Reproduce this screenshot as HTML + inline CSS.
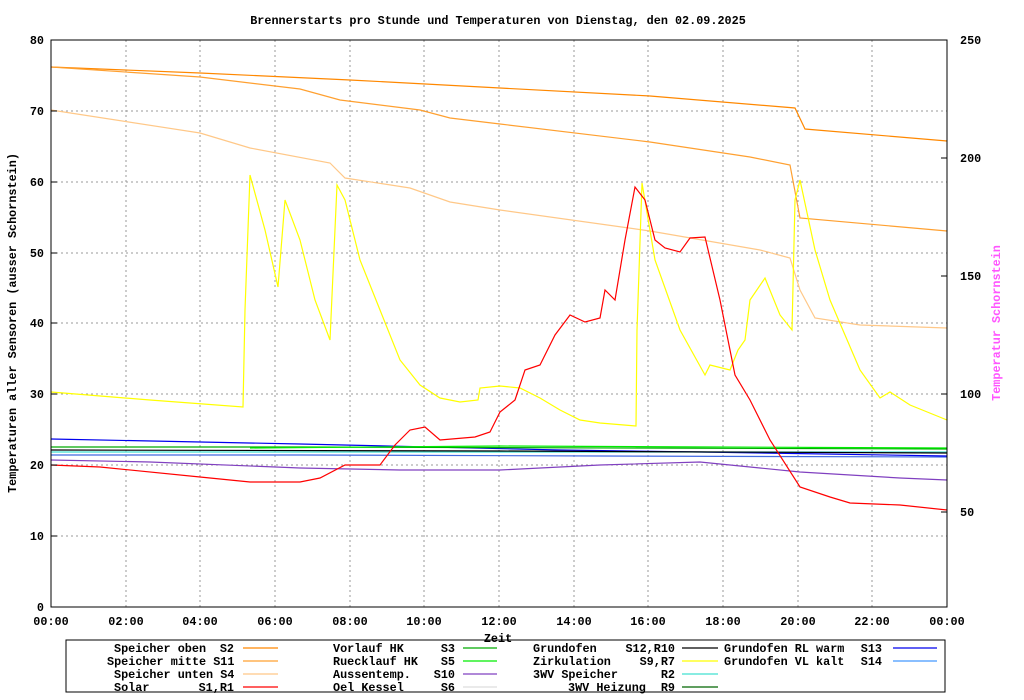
<!DOCTYPE html>
<html><head><meta charset="utf-8"><style>
body{margin:0;background:#fff}
svg{display:block}
text{font-family:"Liberation Mono",monospace;font-size:11.8px;font-weight:bold;fill:#000}
</style></head><body>
<svg width="1024" height="700" viewBox="0 0 1024 700" xmlns="http://www.w3.org/2000/svg">
<rect width="1024" height="700" fill="#fff"/>
<text x="498" y="24" text-anchor="middle">Brennerstarts pro Stunde und Temperaturen von Dienstag, den 02.09.2025</text>
<g stroke="#999" stroke-dasharray="2,3" stroke-width="1">
<line x1="51" y1="536" x2="947" y2="536"/><line x1="51" y1="465" x2="947" y2="465"/>
<line x1="51" y1="394" x2="947" y2="394"/><line x1="51" y1="323" x2="947" y2="323"/>
<line x1="51" y1="253" x2="947" y2="253"/><line x1="51" y1="182" x2="947" y2="182"/>
<line x1="51" y1="111" x2="947" y2="111"/>
<line x1="126" y1="40" x2="126" y2="607"/><line x1="200" y1="40" x2="200" y2="607"/>
<line x1="275" y1="40" x2="275" y2="607"/><line x1="350" y1="40" x2="350" y2="607"/>
<line x1="424" y1="40" x2="424" y2="607"/><line x1="499" y1="40" x2="499" y2="607"/>
<line x1="574" y1="40" x2="574" y2="607"/><line x1="648" y1="40" x2="648" y2="607"/>
<line x1="723" y1="40" x2="723" y2="607"/><line x1="798" y1="40" x2="798" y2="607"/>
<line x1="872" y1="40" x2="872" y2="607"/>
</g>
<g fill="none" stroke-width="1.2">
<polyline stroke="#4169e1" points="51,455 300,455 600,456 947,457"/>
<polyline stroke="#0000ee" points="51,439 300,444 560,450 700,452 947,456"/>
<polyline stroke="#00aa00" points="51,447 300,447 947,449"/>
<polyline stroke="#00ee00" points="250,448 500,446 947,448"/>
<polyline stroke="#40e0d0" points="51,452 947,452"/>
<polyline stroke="#000" points="51,450 500,451 947,453"/>
<polyline stroke="#8040c0" points="51,460 150,462 300,468 400,470 500,470 600,465 700,462 760,468 800,472 900,478 947,480"/>
<polyline stroke="#ff8800" points="51,67 200,73 350,80 500,88 650,96 795,108 805,129 947,141"/>
<polyline stroke="#ffa030" points="51,67 200,77 300,89 340,100 420,110 450,118 500,124 650,142 750,157 790,165 800,218 947,231"/>
<polyline stroke="#ffc888" points="51,110 200,133 250,148 330,163 345,178 410,188 450,202 500,210 650,231 760,250 790,258 800,290 815,318 860,325 947,328"/>
<polyline stroke="#ffff00" points="51,392 150,400 243,407 245,310 250,175 265,230 278,287 285,200 300,240 315,300 330,340 337,185 345,200 360,260 380,310 400,360 420,385 440,398 460,402 478,400 480,388 500,386 520,388 540,398 560,410 580,420 600,423 636,426 637,330 642,183 655,260 680,330 705,375 710,365 730,370 738,350 745,340 750,300 765,278 780,315 792,330 795,200 800,180 815,250 830,300 860,370 880,398 890,392 910,405 947,420"/>
<polyline stroke="#ff0000" points="51,465 100,467 200,477 250,482 300,482 320,478 345,465 380,465 395,445 410,430 425,427 440,440 475,437 490,432 500,412 515,400 525,370 540,365 555,335 570,315 585,322 600,318 605,290 615,300 625,240 635,187 645,200 655,240 665,248 680,252 690,238 705,237 720,300 735,375 750,400 770,440 800,487 830,497 850,503 900,505 947,510"/>
</g>
<rect x="51" y="40" width="896" height="567" fill="none" stroke="#000" stroke-width="1"/>
<g stroke="#000">
<line x1="51" y1="536" x2="57" y2="536"/><line x1="51" y1="465" x2="57" y2="465"/><line x1="51" y1="394" x2="57" y2="394"/><line x1="51" y1="323" x2="57" y2="323"/><line x1="51" y1="253" x2="57" y2="253"/><line x1="51" y1="182" x2="57" y2="182"/><line x1="51" y1="111" x2="57" y2="111"/>
<line x1="941" y1="512" x2="947" y2="512"/><line x1="941" y1="394" x2="947" y2="394"/><line x1="941" y1="276" x2="947" y2="276"/><line x1="941" y1="158" x2="947" y2="158"/>
</g>
<g text-anchor="end">
<text x="44" y="611">0</text><text x="44" y="540">10</text><text x="44" y="469">20</text><text x="44" y="398">30</text><text x="44" y="327">40</text><text x="44" y="257">50</text><text x="44" y="186">60</text><text x="44" y="115">70</text><text x="44" y="44">80</text>
</g>
<g>
<text x="960" y="516">50</text><text x="960" y="398">100</text><text x="960" y="280">150</text><text x="960" y="162">200</text><text x="960" y="44">250</text>
</g>
<g text-anchor="middle">
<text x="51" y="625">00:00</text><text x="126" y="625">02:00</text><text x="200" y="625">04:00</text><text x="275" y="625">06:00</text><text x="350" y="625">08:00</text><text x="424" y="625">10:00</text><text x="499" y="625">12:00</text><text x="574" y="625">14:00</text><text x="648" y="625">16:00</text><text x="723" y="625">18:00</text><text x="798" y="625">20:00</text><text x="872" y="625">22:00</text><text x="947" y="625">00:00</text>
<text x="498" y="642">Zeit</text>
</g>
<text transform="translate(16,323) rotate(-90)" text-anchor="middle">Temperaturen aller Sensoren (ausser Schornstein)</text>
<text transform="translate(1000,323) rotate(-90)" text-anchor="middle" style="fill:#ff55ff">Temperatur Schornstein</text>
<rect x="66" y="640" width="879" height="52" fill="none" stroke="#000"/>
<g>
<text x="114" y="652">Speicher oben</text><text x="234" y="652" text-anchor="end">S2</text>
<text x="107" y="665">Speicher mitte S11</text>
<text x="114" y="678">Speicher unten S4</text>
<text x="114" y="691">Solar</text><text x="234" y="691" text-anchor="end">S1,R1</text>
<text x="333" y="652">Vorlauf HK</text><text x="455" y="652" text-anchor="end">S3</text>
<text x="333" y="665">Ruecklauf HK</text><text x="455" y="665" text-anchor="end">S5</text>
<text x="333" y="678">Aussentemp.</text><text x="455" y="678" text-anchor="end">S10</text>
<text x="333" y="691">Oel Kessel</text><text x="455" y="691" text-anchor="end">S6</text>
<text x="533" y="652">Grundofen</text><text x="675" y="652" text-anchor="end">S12,R10</text>
<text x="533" y="665">Zirkulation</text><text x="675" y="665" text-anchor="end">S9,R7</text>
<text x="533" y="678">3WV Speicher</text><text x="675" y="678" text-anchor="end">R2</text>
<text x="568" y="691">3WV Heizung</text><text x="675" y="691" text-anchor="end">R9</text>
<text x="724" y="652">Grundofen RL warm</text><text x="882" y="652" text-anchor="end">S13</text>
<text x="724" y="665">Grundofen VL kalt</text><text x="882" y="665" text-anchor="end">S14</text>
</g>
<g stroke-width="1.3">
<line x1="243" y1="648" x2="278" y2="648" stroke="#ff8800"/>
<line x1="243" y1="661" x2="278" y2="661" stroke="#ffa030"/>
<line x1="243" y1="674" x2="278" y2="674" stroke="#ffc888"/>
<line x1="243" y1="687" x2="278" y2="687" stroke="#ff0000"/>
<line x1="463" y1="648" x2="497" y2="648" stroke="#00aa00"/>
<line x1="463" y1="661" x2="497" y2="661" stroke="#00ee00"/>
<line x1="463" y1="674" x2="497" y2="674" stroke="#8040c0"/>
<line x1="463" y1="687" x2="497" y2="687" stroke="#ddd"/>
<line x1="682" y1="648" x2="718" y2="648" stroke="#000"/>
<line x1="682" y1="661" x2="718" y2="661" stroke="#ffff00"/>
<line x1="682" y1="674" x2="718" y2="674" stroke="#40e0d0"/>
<line x1="682" y1="687" x2="718" y2="687" stroke="#006600"/>
<line x1="893" y1="648" x2="937" y2="648" stroke="#0000ee"/>
<line x1="893" y1="661" x2="937" y2="661" stroke="#4499ff"/>
</g>
</svg>
</body></html>
